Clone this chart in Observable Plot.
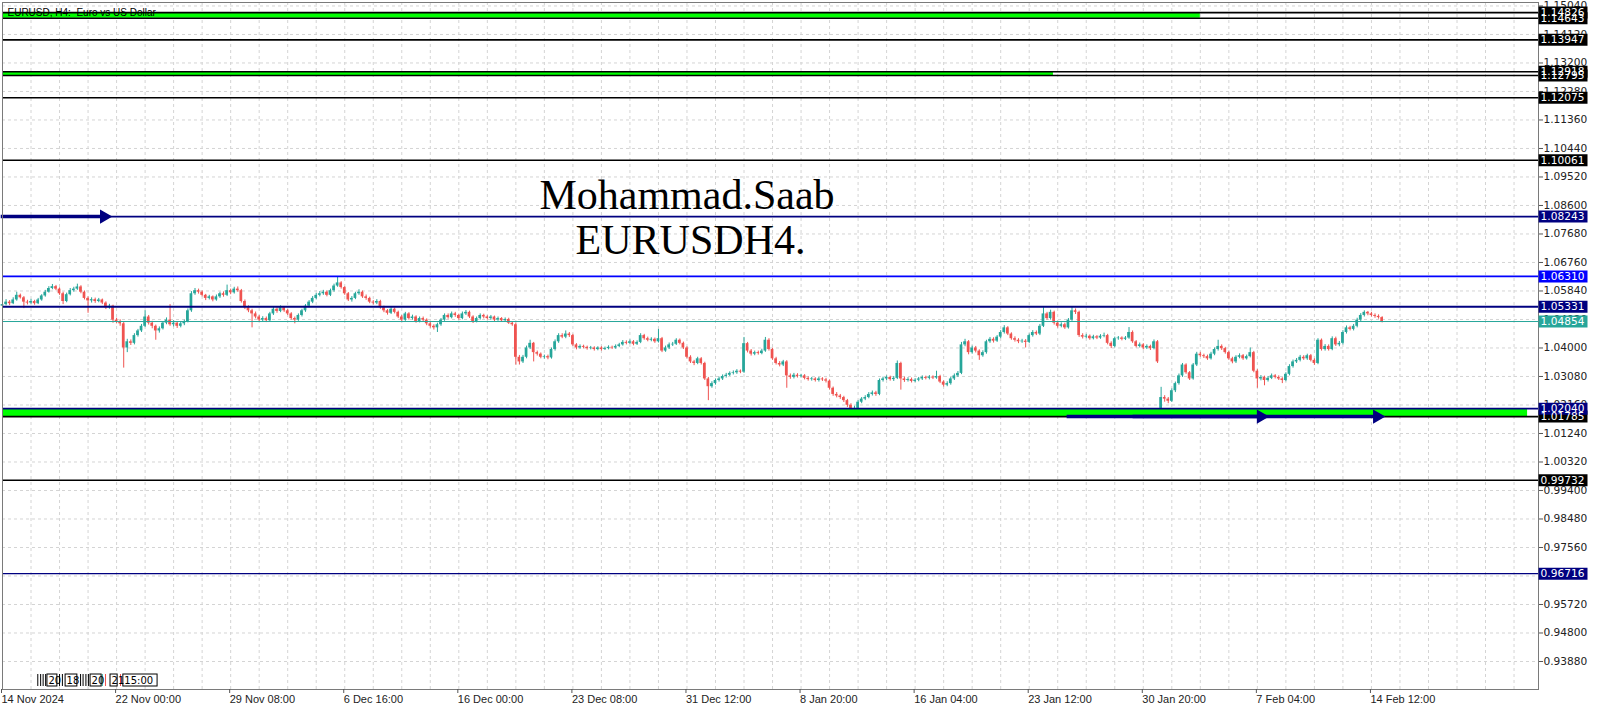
<!DOCTYPE html>
<html><head><meta charset="utf-8">
<script src="https://cdn.jsdelivr.net/npm/d3@7"></script>
<script src="https://cdn.jsdelivr.net/npm/@observablehq/plot@0.6"></script>
<style>html,body{margin:0;padding:0;background:#fff;overflow:hidden}#chart svg{display:block}</style>
</head><body><div id="chart"></div>
<script>
// ---- data: EURUSD H4 candles (bar index 0 = 14 Nov 2024 16:00) ----
const open0 = 1.0535;
const gapOpenBars = [325];
const gapOpenPrices = [1.0205];
const closes = [
1.0540,1.0548,1.0543,1.0555,1.0570,1.0562,1.0548,1.0545,1.0550,1.0543,
1.0555,1.0568,1.0580,1.0592,1.0598,1.0590,1.0575,1.0550,1.0572,1.0585,
1.0590,1.0597,1.0580,1.0560,1.0552,1.0556,1.0550,1.0555,1.0545,1.0530,
1.0535,1.0490,1.0485,1.0478,1.0400,1.0420,1.0415,1.0440,1.0455,1.0470,
1.0500,1.0480,1.0470,1.0455,1.0462,1.0480,1.0490,1.0475,1.0480,1.0470,
1.0478,1.0485,1.0520,1.0575,1.0585,1.0580,1.0570,1.0560,1.0565,1.0555,
1.0565,1.0575,1.0570,1.0585,1.0578,1.0590,1.0585,1.0550,1.0530,1.0520,
1.0510,1.0500,1.0490,1.0495,1.0488,1.0510,1.0525,1.0518,1.0530,1.0520,
1.0510,1.0495,1.0490,1.0505,1.0520,1.0535,1.0548,1.0560,1.0570,1.0575,
1.0580,1.0570,1.0585,1.0600,1.0610,1.0595,1.0575,1.0555,1.0560,1.0575,
1.0580,1.0565,1.0560,1.0548,1.0545,1.0550,1.0530,1.0520,1.0512,1.0525,
1.0515,1.0500,1.0490,1.0510,1.0495,1.0500,1.0485,1.0495,1.0490,1.0478,
1.0470,1.0465,1.0475,1.0490,1.0505,1.0498,1.0510,1.0505,1.0495,1.0510,
1.0515,1.0500,1.0485,1.0495,1.0505,1.0500,1.0495,1.0500,1.0490,1.0495,
1.0488,1.0492,1.0480,1.0475,1.0370,1.0355,1.0370,1.0400,1.0415,1.0385,
1.0380,1.0370,1.0372,1.0368,1.0395,1.0420,1.0440,1.0435,1.0445,1.0440,
1.0410,1.0400,1.0405,1.0402,1.0398,1.0400,1.0395,1.0400,1.0395,1.0398,
1.0402,1.0400,1.0405,1.0410,1.0418,1.0415,1.0420,1.0412,1.0418,1.0440,
1.0430,1.0425,1.0428,1.0420,1.0430,1.0390,1.0400,1.0410,1.0412,1.0425,
1.0415,1.0400,1.0370,1.0355,1.0350,1.0365,1.0350,1.0300,1.0275,1.0285,
1.0295,1.0300,1.0308,1.0312,1.0318,1.0320,1.0325,1.0322,1.0414,1.0390,
1.0380,1.0385,1.0382,1.0390,1.0425,1.0395,1.0365,1.0350,1.0345,1.0355,
1.0310,1.0305,1.0312,1.0308,1.0310,1.0302,1.0298,1.0300,1.0295,1.0300,
1.0297,1.0293,1.0270,1.0250,1.0245,1.0240,1.0230,1.0215,1.0200,1.0205,
1.0225,1.0235,1.0240,1.0250,1.0255,1.0250,1.0295,1.0300,1.0305,1.0298,
1.0302,1.0350,1.0300,1.0295,1.0298,1.0292,1.0296,1.0300,1.0305,1.0302,
1.0306,1.0303,1.0308,1.0290,1.0280,1.0285,1.0300,1.0310,1.0318,1.0410,
1.0420,1.0385,1.0400,1.0390,1.0375,1.0385,1.0420,1.0428,1.0422,1.0435,
1.0450,1.0465,1.0445,1.0430,1.0425,1.0420,1.0422,1.0418,1.0440,1.0450,
1.0445,1.0470,1.0510,1.0495,1.0515,1.0480,1.0470,1.0475,1.0465,1.0490,
1.0520,1.0515,1.0440,1.0435,1.0438,1.0430,1.0436,1.0432,1.0438,1.0440,
1.0415,1.0405,1.0430,1.0432,1.0428,1.0432,1.0450,1.0420,1.0405,1.0410,
1.0400,1.0405,1.0398,1.0420,1.0355,1.0240,1.0235,1.0228,1.0262,1.0285,
1.0310,1.0345,1.0320,1.0300,1.0345,1.0380,1.0375,1.0372,1.0365,1.0380,
1.0395,1.0405,1.0398,1.0385,1.0365,1.0355,1.0370,1.0375,1.0365,1.0372,
1.0385,1.0325,1.0300,1.0305,1.0295,1.0302,1.0310,1.0305,1.0300,1.0295,
1.0315,1.0340,1.0355,1.0360,1.0370,1.0365,1.0375,1.0360,1.0350,1.0425,
1.0395,1.0405,1.0395,1.0430,1.0410,1.0415,1.0450,1.0465,1.0460,1.0470,
1.0490,1.0505,1.0515,1.0510,1.0505,1.0502,1.0498,1.0485];
const highs = [
1.0548,1.0556,1.0553,1.0562,1.0580,1.0574,1.0566,1.0554,1.0557,1.0554,
1.0560,1.0572,1.0586,1.0598,1.0605,1.0602,1.0594,1.0580,1.0577,1.0592,
1.0596,1.0606,1.0601,1.0584,1.0565,1.0562,1.0561,1.0560,1.0558,1.0549,
1.0541,1.0538,1.0496,1.0491,1.0482,1.0428,1.0426,1.0446,1.0460,1.0476,
1.0520,1.0505,1.0486,1.0474,1.0468,1.0485,1.0497,1.0540,1.0488,1.0484,
1.0483,1.0490,1.0526,1.0582,1.0592,1.0590,1.0584,1.0573,1.0570,1.0568,
1.0571,1.0580,1.0581,1.0603,1.0590,1.0596,1.0597,1.0589,1.0555,1.0536,
1.0525,1.0516,1.0505,1.0501,1.0500,1.0515,1.0531,1.0530,1.0536,1.0534,
1.0524,1.0514,1.0500,1.0510,1.0525,1.0540,1.0553,1.0566,1.0576,1.0582,
1.0586,1.0584,1.0590,1.0606,1.0630,1.0614,1.0598,1.0579,1.0566,1.0580,
1.0588,1.0584,1.0571,1.0564,1.0553,1.0556,1.0554,1.0535,1.0524,1.0530,
1.0529,1.0519,1.0505,1.0515,1.0514,1.0506,1.0504,1.0500,1.0500,1.0494,
1.0482,1.0475,1.0480,1.0495,1.0510,1.0510,1.0516,1.0515,1.0509,1.0516,
1.0521,1.0519,1.0504,1.0500,1.0510,1.0509,1.0504,1.0505,1.0503,1.0500,
1.0498,1.0497,1.0496,1.0484,1.0480,1.0376,1.0376,1.0406,1.0425,1.0418,
1.0390,1.0384,1.0377,1.0377,1.0400,1.0426,1.0446,1.0446,1.0455,1.0450,
1.0444,1.0414,1.0410,1.0409,1.0406,1.0405,1.0404,1.0404,1.0404,1.0403,
1.0407,1.0406,1.0410,1.0415,1.0424,1.0423,1.0426,1.0424,1.0423,1.0446,
1.0444,1.0435,1.0433,1.0432,1.0460,1.0434,1.0406,1.0416,1.0418,1.0430,
1.0429,1.0419,1.0404,1.0375,1.0360,1.0370,1.0369,1.0354,1.0305,1.0291,
1.0300,1.0306,1.0313,1.0318,1.0323,1.0326,1.0330,1.0329,1.0434,1.0418,
1.0395,1.0390,1.0390,1.0396,1.0434,1.0430,1.0399,1.0370,1.0356,1.0360,
1.0359,1.0316,1.0318,1.0317,1.0315,1.0314,1.0307,1.0305,1.0304,1.0305,
1.0304,1.0302,1.0297,1.0274,1.0256,1.0250,1.0244,1.0234,1.0220,1.0212,
1.0230,1.0240,1.0246,1.0256,1.0261,1.0260,1.0300,1.0306,1.0310,1.0309,
1.0308,1.0358,1.0354,1.0306,1.0304,1.0303,1.0301,1.0305,1.0310,1.0309,
1.0311,1.0310,1.0325,1.0312,1.0294,1.0291,1.0305,1.0316,1.0324,1.0418,
1.0428,1.0424,1.0406,1.0405,1.0394,1.0391,1.0425,1.0434,1.0433,1.0440,
1.0456,1.0472,1.0469,1.0449,1.0436,1.0430,1.0428,1.0427,1.0445,1.0456,
1.0455,1.0476,1.0530,1.0515,1.0522,1.0519,1.0486,1.0481,1.0480,1.0495,
1.0533,1.0526,1.0519,1.0446,1.0444,1.0442,1.0441,1.0440,1.0443,1.0448,
1.0444,1.0420,1.0435,1.0437,1.0436,1.0437,1.0466,1.0455,1.0424,1.0416,
1.0414,1.0410,1.0409,1.0426,1.0424,1.0273,1.0246,1.0240,1.0268,1.0290,
1.0316,1.0350,1.0349,1.0324,1.0350,1.0386,1.0386,1.0380,1.0377,1.0386,
1.0400,1.0425,1.0410,1.0402,1.0389,1.0370,1.0375,1.0381,1.0379,1.0377,
1.0400,1.0389,1.0330,1.0311,1.0309,1.0308,1.0316,1.0314,1.0310,1.0304,
1.0320,1.0346,1.0361,1.0366,1.0376,1.0375,1.0380,1.0379,1.0365,1.0430,
1.0429,1.0411,1.0410,1.0436,1.0435,1.0421,1.0456,1.0471,1.0470,1.0476,
1.0496,1.0511,1.0520,1.0518,1.0515,1.0510,1.0507,1.0501];
const lows = [
1.0528,1.0536,1.0537,1.0540,1.0551,1.0558,1.0527,1.0539,1.0541,1.0538,
1.0540,1.0551,1.0564,1.0577,1.0588,1.0585,1.0570,1.0540,1.0546,1.0568,
1.0580,1.0586,1.0575,1.0555,1.0512,1.0545,1.0544,1.0546,1.0540,1.0524,
1.0525,1.0480,1.0478,1.0470,1.0335,1.0385,1.0408,1.0410,1.0435,1.0450,
1.0466,1.0474,1.0462,1.0425,1.0448,1.0458,1.0475,1.0470,1.0468,1.0463,
1.0465,1.0472,1.0481,1.0515,1.0570,1.0574,1.0565,1.0553,1.0555,1.0549,
1.0551,1.0560,1.0564,1.0566,1.0572,1.0574,1.0580,1.0545,1.0524,1.0514,
1.0465,1.0494,1.0484,1.0485,1.0482,1.0484,1.0505,1.0512,1.0514,1.0515,
1.0505,1.0490,1.0478,1.0486,1.0500,1.0515,1.0530,1.0543,1.0555,1.0565,
1.0570,1.0565,1.0566,1.0580,1.0596,1.0590,1.0570,1.0550,1.0548,1.0556,
1.0570,1.0560,1.0554,1.0543,1.0539,1.0540,1.0525,1.0514,1.0506,1.0508,
1.0510,1.0495,1.0484,1.0486,1.0490,1.0490,1.0480,1.0481,1.0484,1.0472,
1.0464,1.0458,1.0450,1.0470,1.0486,1.0493,1.0494,1.0499,1.0490,1.0491,
1.0505,1.0495,1.0479,1.0481,1.0490,1.0494,1.0490,1.0490,1.0485,1.0486,
1.0483,1.0484,1.0476,1.0470,1.0345,1.0345,1.0350,1.0365,1.0395,1.0355,
1.0374,1.0365,1.0364,1.0362,1.0364,1.0390,1.0415,1.0430,1.0430,1.0434,
1.0405,1.0394,1.0396,1.0397,1.0393,1.0394,1.0390,1.0391,1.0390,1.0392,
1.0394,1.0395,1.0396,1.0401,1.0406,1.0410,1.0411,1.0407,1.0408,1.0414,
1.0425,1.0420,1.0420,1.0415,1.0416,1.0385,1.0386,1.0395,1.0405,1.0408,
1.0410,1.0395,1.0365,1.0350,1.0343,1.0346,1.0345,1.0295,1.0230,1.0270,
1.0280,1.0290,1.0295,1.0303,1.0308,1.0313,1.0315,1.0317,1.0318,1.0384,
1.0374,1.0375,1.0377,1.0378,1.0386,1.0390,1.0360,1.0345,1.0339,1.0340,
1.0270,1.0299,1.0300,1.0303,1.0303,1.0297,1.0293,1.0293,1.0290,1.0290,
1.0292,1.0287,1.0264,1.0244,1.0239,1.0234,1.0224,1.0208,1.0178,1.0192,
1.0200,1.0220,1.0230,1.0236,1.0245,1.0244,1.0246,1.0290,1.0295,1.0293,
1.0292,1.0298,1.0264,1.0289,1.0290,1.0287,1.0288,1.0291,1.0295,1.0297,
1.0297,1.0298,1.0299,1.0285,1.0274,1.0275,1.0280,1.0295,1.0305,1.0314,
1.0404,1.0378,1.0380,1.0384,1.0360,1.0370,1.0380,1.0415,1.0416,1.0418,
1.0430,1.0445,1.0440,1.0425,1.0419,1.0414,1.0415,1.0400,1.0414,1.0435,
1.0440,1.0440,1.0466,1.0490,1.0490,1.0474,1.0464,1.0465,1.0460,1.0461,
1.0486,1.0508,1.0434,1.0429,1.0430,1.0425,1.0426,1.0427,1.0428,1.0433,
1.0410,1.0398,1.0400,1.0425,1.0423,1.0424,1.0428,1.0415,1.0400,1.0400,
1.0394,1.0395,1.0392,1.0394,1.0350,1.0190,1.0225,1.0220,1.0224,1.0256,
1.0280,1.0305,1.0315,1.0295,1.0296,1.0340,1.0370,1.0366,1.0360,1.0361,
1.0375,1.0390,1.0392,1.0380,1.0360,1.0349,1.0350,1.0365,1.0360,1.0361,
1.0368,1.0320,1.0270,1.0294,1.0278,1.0290,1.0298,1.0300,1.0295,1.0285,
1.0291,1.0310,1.0335,1.0350,1.0355,1.0360,1.0360,1.0355,1.0344,1.0346,
1.0390,1.0390,1.0390,1.0391,1.0405,1.0404,1.0410,1.0445,1.0455,1.0455,
1.0465,1.0485,1.0500,1.0504,1.0500,1.0496,1.0493,1.0481];

// ---- axes ----
const xTickBars = [0,32,64,96,128,160,192,224,256,288,320,352,384];
const xTickLabels = ["14 Nov 2024","22 Nov 00:00","29 Nov 08:00","6 Dec 16:00","16 Dec 00:00","23 Dec 08:00","31 Dec 12:00","8 Jan 20:00","16 Jan 04:00","23 Jan 12:00","30 Jan 20:00","7 Feb 04:00","14 Feb 12:00"];
const yTicks = [0.93880,0.94800,0.95720,0.96640,0.97560,0.98480,0.99400,1.00320,1.01240,1.02160,1.03080,1.04000,1.04920,1.05840,1.06760,1.07680,1.08600,1.09520,1.10440,1.11360,1.12280,1.13200,1.14120,1.15040];

// ---- horizontal levels (label draw order) ----
const levelPrices = [1.14826,1.14643,1.13947,1.12795,1.12918,1.12075,1.10061,1.08243,1.06310,1.05331,1.04854,1.01785,1.02040,0.99732,0.96716];
const levelColors = ["#000000","#000000","#000000","#000000","#000000","#000000","#000000","#000080","#0000ff","#000080","#26a69a","#000000","#000080","#000000","#000080"];
const levelWidths = [1.6,1.6,1.6,1.6,1.6,1.6,1.6,1.8,1.8,1.8,1,1.6,1.8,1.6,1.4];

// ---- green rectangles ----
const bandTops = [1.14826,1.12918,1.02040];
const bandBottoms = [1.14643,1.12795,1.01785];
const bandEndBars = [336,294.8,427.8];

// ---- arrows ----
const arrowStartBars = [-0.5,298.5,317];
const arrowTipBars = [30.3,354.8,387.4];
const arrowPrices = [1.08243,1.01785,1.01785];

// ---- text ----
const titleText = "EURUSD, H4:  Euro vs US Dollar";
const noteTexts = ["Mohammad.Saab","EURUSDH4."];
const noteBars = [192,193];
const notePrices = [1.09452,1.08000];

// ---- vertical-line tags at bottom ----
const vlineBars = [9.9,10.7,11.4,12.1,16,16.8,21.9,22.6,23.4,24.1];
const vlineColorBars = [28.0,28.9,33.1];
const vlineColors = ["#26a69a","#ef5350","#ef5350"];
const tagStartBars = [12.6,17.7,24.7,30.3,33.9];
const tagEndBars = [15.4,21.0,27.8,32.3,43.5];
const tagTexts = ["20","18","20","21","15:00"];
const tagTop = 0.93460, tagBottom = 0.93073;

// ---- build ----
const UP = "#26a69a", DOWN = "#ef5350";
const bars = closes.map((c, i) => {
  const g = gapOpenBars.indexOf(i);
  const o = i === 0 ? open0 : (g >= 0 ? gapOpenPrices[g] : closes[i - 1]);
  return {i, o, c, h: highs[i], l: lows[i], up: c >= o};
});
const levels = levelPrices.map((p, k) => ({p, color: levelColors[k], w: levelWidths[k]}));
const bands = bandTops.map((t, k) => ({t, b: bandBottoms[k], end: bandEndBars[k]}));
const arrows = arrowStartBars.map((s, k) => ({s, tip: arrowTipBars[k], p: arrowPrices[k]}));
const notes = noteTexts.map((t, k) => ({t, x: noteBars[k], p: notePrices[k]}));
const tags = tagTexts.map((t, k) => ({t, a: tagStartBars[k], b: tagEndBars[k]}));
const vlines = vlineBars.map(x => ({x, c: "#000"})).concat(vlineColorBars.map((x, k) => ({x, c: vlineColors[k]})));
const labelByBar = new Map(xTickBars.map((b, k) => [b, xTickLabels[k]]));

const X0 = 0, X1 = 430.86;
const pxPerBar = 1536 / (X1 - X0);
const gridBars = d3.range(8, X1, 8);
const boxA = X1 + 0.6 / pxPerBar, boxB = X1 + 49.5 / pxPerBar;

const chart = Plot.plot({
  width: 1600, height: 711,
  marginTop: 2, marginBottom: 22, marginLeft: 2, marginRight: 62,
  x: {domain: [X0, X1], axis: null},
  y: {domain: [0.92976, 1.15152], axis: null},
  style: {fontFamily: "DejaVu Sans", fontSize: "10px", background: "#fff", color: "#000", overflow: "visible"},
  marks: [
    Plot.ruleY(yTicks, {stroke: "#d4d4d4", strokeDasharray: "3,3"}),
    Plot.ruleX(gridBars, {stroke: "#d4d4d4", strokeDasharray: "3,3"}),
    Plot.ruleX(bars, {x: "i", y1: "l", y2: "h", stroke: d => d.up ? UP : DOWN, strokeWidth: 1}),
    Plot.rect(bars, {x1: d => d.i - 0.38, x2: d => d.i + 0.38, y1: "o", y2: "c", fill: d => d.up ? UP : DOWN}),
    Plot.rect(bands, {x1: X0, x2: "end", y1: "t", y2: "b", fill: "#00ff00"}),
    Plot.ruleY(levels, {y: "p", stroke: d => d.color, strokeWidth: d => d.w}),
    Plot.link(arrows, {x1: "s", x2: d => d.tip - 2, y1: "p", y2: "p", stroke: "#000080", strokeWidth: 3.5}),
    Plot.dot(arrows, {x: d => d.tip - 1.8, y: "p", symbol: "triangle", rotate: 90, r: 4.3, fill: "#000080", stroke: "#000080"}),
    Plot.text(notes, {x: "x", y: "p", text: "t", lineAnchor: "top", fontFamily: "Liberation Serif", fontSize: 42, fill: "#000"}),
    Plot.frame({stroke: "#7a7a7a"}),
    Plot.axisY(yTicks, {anchor: "right", tickFormat: d => d.toFixed(5), tickSize: 4, tickPadding: 1, stroke: "#555", fill: "#222", fontFamily: "DejaVu Sans", fontSize: 10.6}),
    Plot.axisX(xTickBars, {anchor: "bottom", tickFormat: d => labelByBar.get(d), tickSize: 4, tickPadding: 2, textAnchor: "start", dx: -1, stroke: "#555", fill: "#222", fontFamily: "Liberation Sans", fontSize: 11}),
    Plot.ruleY(levels, {y: "p", x1: () => boxA, x2: () => boxB, stroke: d => d.color, strokeWidth: 12}),
    Plot.text(levels, {y: "p", x: () => boxA, text: d => d.p.toFixed(5), textAnchor: "start", dx: 1.5, fill: "#fff", fontFamily: "DejaVu Sans", fontSize: 10.6}),
    Plot.text([titleText], {frameAnchor: "top-left", dx: 5, dy: 6, lineAnchor: "top", fontFamily: "Liberation Sans", fontSize: 10, fill: "#000"}),
    Plot.ruleX(vlines, {x: "x", y1: tagBottom, y2: tagTop, stroke: d => d.c, strokeWidth: 1}),
    Plot.rect(tags, {x1: "a", x2: "b", y1: tagBottom, y2: tagTop, fill: "#fff", stroke: "#000", strokeWidth: 1}),
    Plot.text(tags, {x: "a", y: (tagTop + tagBottom) / 2, text: "t", textAnchor: "start", dx: 1, fontFamily: "DejaVu Sans", fontSize: 10, fill: "#000"})
  ]
});
document.getElementById("chart").appendChild(chart);
</script>
</body></html>
